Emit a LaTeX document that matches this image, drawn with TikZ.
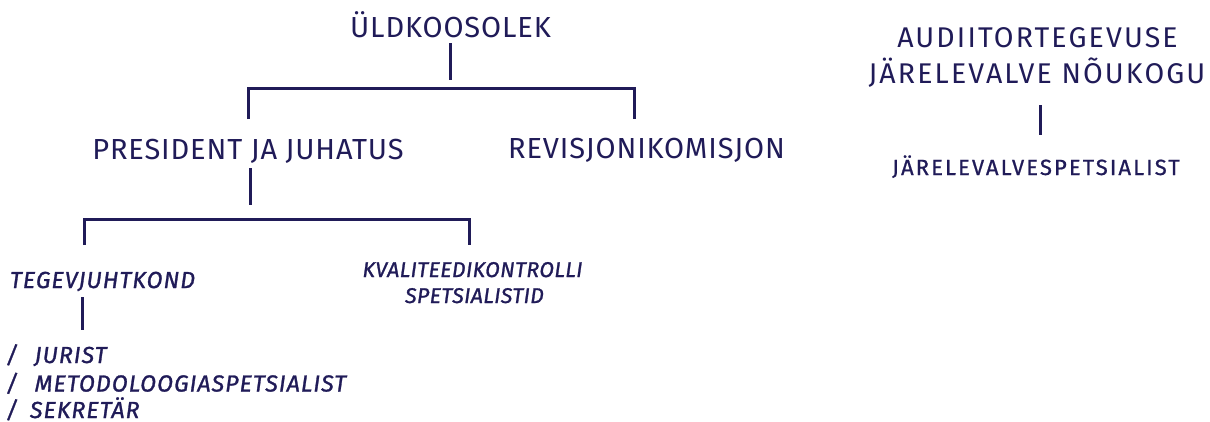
\documentclass[tikz,border=0pt]{standalone}
\usepackage{fontspec}
\setmainfont{Fira Sans}
\newfontfamily\itfont[FakeBold=1.2]{Fira Sans Italic}
\newfontfamily\medfont[FakeBold=0.8]{Fira Sans}
\definecolor{navy}{RGB}{32,27,88}
\begin{document}
\begin{tikzpicture}[x=1pt,y=-1pt,
  every node/.style={text=navy, inner sep=0pt, outer sep=0pt},
  big/.style={font=\fontsize{29}{30}\selectfont\addfontfeature{LetterSpace=3}, anchor=base},
  aud/.style={font=\fontsize{28.5}{30}\selectfont\addfontfeature{LetterSpace=7.5}, anchor=base},
  mid/.style={font=\fontsize{23.2}{26}\itfont\addfontfeature{LetterSpace=4.5}, anchor=base west},
  small/.style={font=\fontsize{21.3}{25}\itfont\addfontfeature{LetterSpace=2}, anchor=base},
  spec/.style={font=\fontsize{22}{25}\medfont\addfontfeature{LetterSpace=9.5}, anchor=base},
  conn/.style={draw=navy, line width=3pt}]
\useasboundingbox (0,0) rectangle (1210,421);
% nodes
\node[big] (uld) at (450.5,37) {ÜLDKOOSOLEK};
\node[big] (pres) at (248,159) {PRESIDENT JA JUHATUS};
\node[big] (rev) at (646.5,158) {REVISJONIKOMISJON};
\node[mid] (teg) at (10,288) {TEGEVJUHTKOND};
\node[small] (kval1) at (472.5,277) {KVALITEEDIKONTROLLI};
\node[small] (kval2) at (474.5,303) {SPETSIALISTID};
\node[mid] (jur) at (6,363) {/\hspace{0.72em}JURIST};
\node[mid] (met) at (6,391.5) {/\hspace{0.72em}METODOLOOGIASPETSIALIST};
\node[mid] (sek) at (6,418) {/\hspace{0.52em}SEKRETÄR};
\node[aud] (aud1) at (1037.5,47) {AUDIITORTEGEVUSE};
\node[aud] (aud2) at (1037,83.3) {JÄRELEVALVE NÕUKOGU};
\node[spec] (jsp) at (1036,175) {JÄRELEVALVESPETSIALIST};
% bracket coordinates
\coordinate (u1) at (450,43);
\coordinate (u2) at (450,80);
\coordinate (bl) at (248,88);
\coordinate (br) at (634,88);
\coordinate (bld) at (248,119);
\coordinate (brd) at (634,119);
\coordinate (p1) at (250,168);
\coordinate (p2) at (250,205);
\coordinate (cl) at (84,219);
\coordinate (cr) at (469,219);
\coordinate (cld) at (84,245);
\coordinate (crd) at (469,245);
\coordinate (t1) at (82,297);
\coordinate (t2) at (82,330);
\coordinate (a1) at (1040,105);
\coordinate (a2) at (1040,135);
% connectors
\draw[conn] (u1) -- (u2);
\draw[conn] (bld) -- (bl) -- (br) -- (brd);
\draw[conn] (p1) -- (p2);
\draw[conn] (cld) -- (cl) -- (cr) -- (crd);
\draw[conn] (t1) -- (t2);
\draw[conn] (a1) -- (a2);
\end{tikzpicture}
\end{document}
